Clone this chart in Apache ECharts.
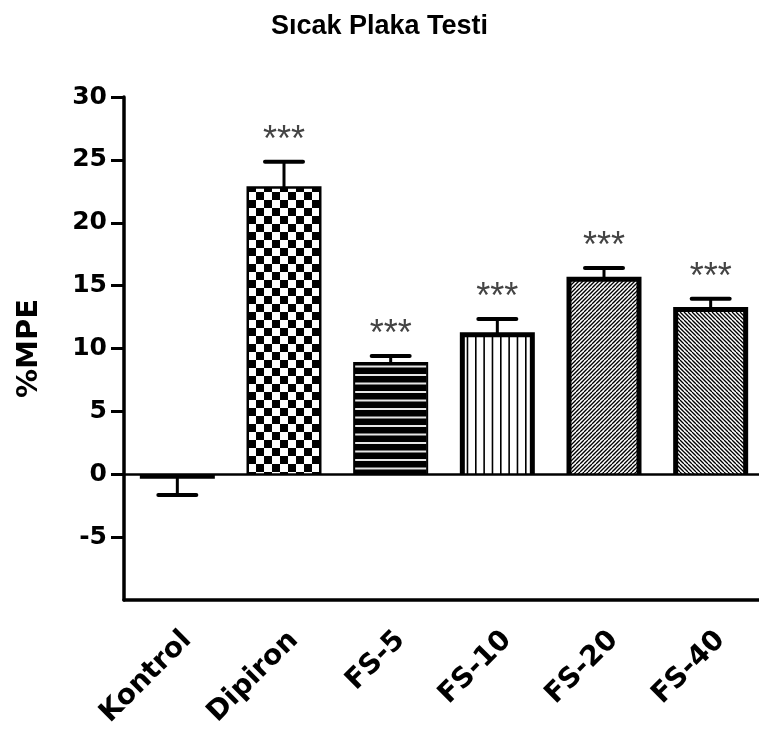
<!DOCTYPE html>
<html>
<head>
<meta charset="utf-8">
<script src="https://cdn.jsdelivr.net/npm/echarts@6/dist/echarts.min.js"></script>
<style>html,body{margin:0;padding:0;background:#fff;}#c{width:759px;height:729px;}</style>
</head>
<body>
<div id="c"></div>
<script>
const categories = ['Kontrol', 'Dipiron', 'FS-5', 'FS-10', 'FS-20', 'FS-40'];
const means = [-0.2, 22.8, 8.85, 11.1, 15.5, 13.1];
const sems = [1.45, 2.05, 0.55, 1.25, 0.9, 0.85];
const signif = ['', '***', '***', '***', '***', '***'];
const yTicks = [-5, 0, 5, 10, 15, 20, 25, 30];

function mk(w, h, draw) {
  const c = document.createElement('canvas');
  c.width = w; c.height = h;
  const g = c.getContext('2d');
  draw(g, w, h);
  return { image: c, repeat: 'repeat' };
}
const checker = mk(16, 16, (g) => {
  g.fillStyle = '#fff'; g.fillRect(0, 0, 16, 16);
  g.fillStyle = '#000'; g.fillRect(0, 0, 8, 8); g.fillRect(8, 8, 8, 8);
});
const hlines = mk(8, 17, (g) => {
  g.fillStyle = '#000'; g.fillRect(0, 0, 8, 17);
  g.fillStyle = '#e6e6e6'; g.fillRect(0, 0, 8, 2); g.fillRect(0, 8.5, 8, 2);
});
const vlines = mk(25, 8, (g) => {
  g.fillStyle = '#fff'; g.fillRect(0, 0, 25, 8);
  g.fillStyle = '#000';
  [0, 8.33, 16.67].forEach(x => g.fillRect(x, 0, 1.6, 8));
});
const diagR = mk(8, 8, (g) => {
  g.fillStyle = '#fff'; g.fillRect(0, 0, 8, 8);
  g.strokeStyle = '#000'; g.lineWidth = 1.3;
  for (let c = 0; c <= 16; c += 4) { g.beginPath(); g.moveTo(c - 8, 8); g.lineTo(c, 0); g.stroke(); }
});
const diagL = mk(8, 8, (g) => {
  g.fillStyle = '#fff'; g.fillRect(0, 0, 8, 8);
  g.strokeStyle = '#000'; g.lineWidth = 1.3;
  for (let c = 0; c <= 16; c += 4) { g.beginPath(); g.moveTo(c - 8, 0); g.lineTo(c, 8); g.stroke(); }
});
const fills = ['#fff', checker, hlines, vlines, diagR, diagL];
const outlineW = [4, 2.5, 2, 5, 5, 5];

const chart = echarts.init(document.getElementById('c'));
const font = '"Liberation Sans", Arial, sans-serif';
const wfont = '"DejaVu Sans", "Liberation Sans", sans-serif';
chart.setOption({
  animation: false,
  title: {
    text: 'Sıcak Plaka Testi', left: 'center', top: 8,
    textStyle: { fontFamily: font, fontWeight: 'bold', fontSize: 27, color: '#000' }
  },
  grid: { left: 124, top: 97, width: 640, height: 503, containLabel: false, outerBoundsMode: 'none' },
  xAxis: {
    type: 'category', data: categories,
    axisLine: { onZero: false, lineStyle: { color: '#000', width: 3.5 } },
    axisTick: { alignWithLabel: true, length: 12, lineStyle: { color: '#000', width: 3 } },
    axisLabel: { rotate: 45, margin: 26, verticalAlign: 'top', color: '#000', fontFamily: wfont, fontWeight: 'bold', fontSize: 28 },
    splitLine: { show: false }
  },
  yAxis: {
    type: 'value', min: -10, max: 30, interval: 5,
    name: '%MPE', nameLocation: 'middle', nameRotate: 90, nameGap: 80,
    nameTextStyle: { fontFamily: wfont, fontWeight: 'bold', fontSize: 29, color: '#000' },
    axisLine: { show: true, lineStyle: { color: '#000', width: 3.5 } },
    axisTick: { show: true, length: 13, customValues: yTicks, lineStyle: { color: '#000', width: 3 } },
    axisLabel: { customValues: yTicks, margin: 17, color: '#000', fontFamily: wfont, fontWeight: 'bold', fontSize: 25 },
    splitLine: { show: false }
  },
  series: [
    {
      type: 'bar', barWidth: 72,
      data: means.map((v, i) => ({
        value: v,
        itemStyle: { color: fills[i], borderWidth: 0 }
      })),
      markLine: {
        silent: true, symbol: 'none', label: { show: false },
        lineStyle: { color: '#000', width: 2.5, type: 'solid' },
        data: [{ yAxis: 0 }]
      },
      z: 2
    },
    {
      type: 'custom',
      data: means.map((v, i) => [i, v, sems[i]]),
      renderItem: function (params, api) {
        const idx = params.dataIndex;
        const i = api.value(0), m = api.value(1), s = api.value(2);
        const top = m >= 0 ? m + s : m - s;
        const p0 = api.coord([i, m]);
        const pz = api.coord([i, 0]);
        const p1 = api.coord([i, top]);
        const lw = outlineW[idx];
        const hw = 37.5 - lw / 2;
        const children = [
          { type: 'polyline', shape: { points: [[p0[0] - hw, pz[1]], [p0[0] - hw, p0[1]], [p0[0] + hw, p0[1]], [p0[0] + hw, pz[1]]] },
            style: { stroke: '#000', lineWidth: lw, fill: null, lineJoin: 'miter' } },
          { type: 'line', shape: { x1: p0[0], y1: p0[1], x2: p1[0], y2: p1[1] }, style: { stroke: '#000', lineWidth: 3 } },
          { type: 'line', shape: { x1: p1[0] - 19, y1: p1[1], x2: p1[0] + 19, y2: p1[1] }, style: { stroke: '#000', lineWidth: 4, lineCap: 'round' } }
        ];
        const t = signif[idx];
        if (t) {
          children.push({ type: 'text', x: p1[0], y: p1[1] - 21, style: { text: t, fill: '#444', font: '36px ' + font, align: 'center', verticalAlign: 'middle' } });
        }
        return { type: 'group', children: children };
      },
      z: 3
    }
  ]
});
</script>
</body>
</html>
